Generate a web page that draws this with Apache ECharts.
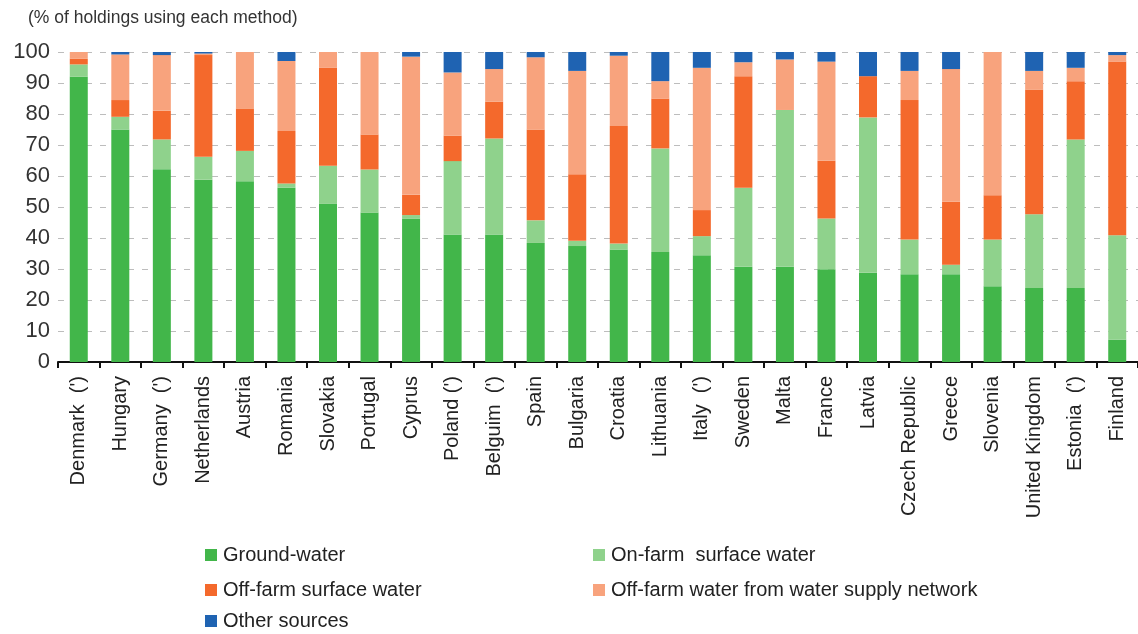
<!DOCTYPE html>
<html>
<head>
<meta charset="utf-8">
<script src="https://cdn.jsdelivr.net/npm/echarts@6/dist/echarts.min.js"></script>
<style>html,body{margin:0;padding:0;background:#fff;}#c{width:1138px;height:634px;}</style>
</head>
<body>
<div id="c"></div>
<script>
var categories = ["Denmark  (')", "Hungary", "Germany  (')", "Netherlands", "Austria", "Romania", "Slovakia", "Portugal", "Cyprus", "Poland (')", "Belguim  (')", "Spain", "Bulgaria", "Croatia", "Lithuania", "Italy  (')", "Sweden", "Malta", "France", "Latvia", "Czech Republic", "Greece", "Slovenia", "United Kingdom", "Estonia  (')", "Finland"];
var groundWater = [92, 75, 62.2, 58.8, 58.3, 56.2, 51.1, 48.2, 46.3, 41.1, 41.1, 38.4, 37.4, 36.3, 35.5, 34.4, 30.7, 30.7, 29.9, 28.8, 28.3, 28.3, 24.4, 23.9, 23.9, 7.2];
var onFarmSurface = [4, 4.1, 9.6, 7.4, 9.8, 1.4, 12.2, 13.9, 1.1, 23.7, 31, 7.3, 1.7, 1.9, 33.4, 6.2, 25.5, 50.6, 16.4, 50.1, 11.2, 3.1, 15.1, 23.8, 47.9, 33.7];
var offFarmSurface = [1.8, 5.4, 9.3, 32.8, 13.7, 16.9, 31.7, 11.3, 6.6, 8.2, 11.9, 29.3, 21.5, 37.9, 16.1, 8.4, 36, 0, 18.6, 13.3, 45, 20.3, 14.3, 40.2, 18.8, 56];
var supplyNetwork = [2.4, 14.7, 17.9, 0.5, 18.2, 22.6, 5, 26.6, 44.5, 20.4, 10.5, 23.3, 33.3, 22.7, 5.6, 45.9, 4.5, 16.3, 32, 0, 9.4, 42.8, 46.2, 6, 4.3, 2.1];
var otherSources = [0, 0.8, 1, 0.5, 0, 2.9, 0, 0, 1.5, 6.6, 5.5, 1.7, 6.1, 1.2, 9.4, 5.1, 3.3, 2.4, 3.1, 7.8, 6.1, 5.5, 0, 6.1, 5.1, 1];
var yTicks = [0, 10, 20, 30, 40, 50, 60, 70, 80, 90, 100];

var seriesNames = ["Ground-water", "On-farm  surface water", "Off-farm surface water", "Off-farm water from water supply network", "Other sources"];
var seriesData = [groundWater, onFarmSurface, offFarmSurface, supplyNetwork, otherSources];
var colors = ["#42b64a", "#8fd28c", "#f4692c", "#f8a37d", "#1f63b2"];

var font = "'Liberation Sans', Arial, sans-serif";
var legendPos = [[205, 545], [593, 545], [205, 580], [593, 580], [205, 611]];

var chart = echarts.init(document.getElementById('c'), null, {renderer: 'canvas'});
var option = {
  animation: false,
  backgroundColor: '#fff',
  textStyle: {fontFamily: font},
  title: {
    text: '(% of holdings using each method)',
    left: 23, top: 4,
    textStyle: {fontSize: 17.5, fontWeight: 'normal', color: '#333', fontFamily: font}
  },
  legend: seriesNames.map(function (n, i) {
    return {
      data: [n], left: legendPos[i][0], top: legendPos[i][1], padding: 0,
      itemWidth: 12, itemHeight: 12, icon: 'rect', itemGap: 7,
      textStyle: {fontSize: 20, color: '#222', fontFamily: font, padding: [0, 0, 0, 1]}
    };
  }),
  grid: {left: 58, top: 52, width: 1089, height: 310},
  xAxis: {
    type: 'category',
    data: categories,
    axisLine: {lineStyle: {color: '#111', width: 2}},
    axisTick: {show: true, length: 6, lineStyle: {color: '#111', width: 2}},
    axisLabel: {rotate: 90, fontSize: 20, color: '#222', margin: 14, fontFamily: font, interval: 0}
  },
  yAxis: {
    type: 'value', min: yTicks[0], max: yTicks[yTicks.length - 1], interval: 10,
    axisLine: {show: false}, axisTick: {show: false},
    axisLabel: {fontSize: 22, color: '#333', margin: 8, fontFamily: font},
    splitLine: {lineStyle: {color: '#bdbdbd', type: [6, 8], width: 1}}
  },
  series: seriesNames.map(function (n, i) {
    return {
      name: n, type: 'bar', stack: 'total', data: seriesData[i],
      barWidth: 18, itemStyle: {color: colors[i]}
    };
  })
};
chart.setOption(option);
</script>
</body>
</html>
